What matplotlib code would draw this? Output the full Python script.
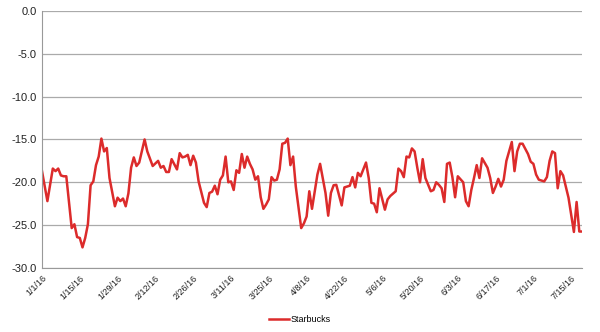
import matplotlib
matplotlib.use('Agg')
import matplotlib.pyplot as plt
import pandas as pd

plt.rcParams['font.family'] = ['Liberation Sans', 'DejaVu Sans']

# ------------------------------------------------------------
# Data (day offset from 1/1/16)
# ------------------------------------------------------------
START = pd.Timestamp('2016-01-01')

days = [0, 2, 4, 5, 6, 7, 8, 9, 11, 12, 13, 14, 15, 16, 17, 18, 19, 20, 21, 22,
        23, 24, 25, 27, 28, 29, 30, 31, 32, 33, 34, 35, 36, 38, 39, 41, 43, 44, 45, 46,
        47, 48, 50, 51, 52, 53, 54, 55, 56, 57, 58, 60, 61, 62, 63, 64, 65, 66, 67, 68,
        69, 70, 71, 72, 73, 74, 75, 76, 77, 78, 79, 80, 81, 82, 83, 84, 85, 86, 87, 88,
        89, 90, 91, 92, 93, 94, 96, 97, 98, 99, 100, 102, 103, 105, 106, 107, 108, 109, 111, 112,
        114, 115, 116, 117, 118, 120, 121, 122, 123, 124, 125, 127, 128, 129, 131, 132, 133, 134, 135, 136,
        137, 138, 139, 140, 141, 142, 144, 145, 146, 147, 148, 149, 150, 151, 152, 153, 154, 156, 157, 158,
        159, 160, 161, 162, 163, 165, 166, 167, 168, 169, 170, 171, 172, 174, 175, 176, 177, 178, 180, 181,
        182, 183, 184, 186, 187, 188, 189, 190, 191, 192, 193, 195, 196, 197, 198, 199, 200]

starbucks = [-18.7, -22.2, -18.4, -18.7, -18.4, -19.2, -19.3, -19.3, -25.35, -24.9,
             -26.4, -26.5, -27.6, -26.5, -24.9, -20.35, -19.9, -18.0, -17.0, -14.9,
             -16.4, -16.0, -19.5, -22.8, -21.8, -22.2, -21.9, -22.8, -21.3, -18.3,
             -17.1, -18.1, -17.7, -15.0, -16.4, -18.1, -17.5, -18.3, -18.1, -18.8,
             -18.8, -17.3, -18.5, -16.6, -17.1, -17.0, -16.8, -18.0, -16.9, -17.7,
             -19.9, -22.4, -22.9, -21.25, -21.1, -20.4, -21.4, -19.7, -19.2, -17.0,
             -20.0, -19.9, -20.9, -18.6, -18.9, -16.7, -18.3, -17.0, -17.85, -18.5,
             -19.7, -19.3, -21.75, -23.1, -22.6, -22.0, -19.4, -19.8, -19.7, -18.5,
             -15.5, -15.4, -14.9, -18.0, -17.0, -20.5, -25.35, -24.8, -24.0, -21.05,
             -23.1, -19.1, -17.85, -21.25, -23.9, -21.25, -20.35, -20.3, -22.7, -20.6,
             -20.4, -19.4, -20.6, -18.9, -19.3, -17.7, -19.5, -22.4, -22.5, -23.5,
             -20.7, -23.2, -22.0, -21.6, -21.05, -18.4, -18.7, -19.4, -17.0, -17.1,
             -16.05, -16.4, -18.3, -20.0, -17.3, -19.5, -21.05, -20.9, -20.0, -20.3,
             -20.7, -22.3, -17.85, -17.7, -19.4, -21.75, -19.3, -20.0, -22.2, -22.8,
             -20.9, -19.5, -18.0, -19.5, -17.2, -18.3, -19.5, -21.25, -20.5, -19.6,
             -20.5, -19.7, -17.5, -15.3, -18.7, -16.4, -15.5, -15.5, -16.7, -17.6,
             -17.85, -19.1, -19.7, -19.9, -19.4, -17.5, -16.4, -16.6, -20.7, -18.7,
             -19.2, -21.8, -23.8, -25.8, -22.3, -25.75, -25.75]

Y_TICKS = [0, -5, -10, -15, -20, -25, -30]

dates = START + pd.to_timedelta(days, unit='D')
tick_dates = pd.date_range('2016-01-01', '2016-07-15', freq='14D')
tick_labels = [f"{d.month}/{d.day}/{d.year % 100}" for d in tick_dates]

# ------------------------------------------------------------
# Plot
# ------------------------------------------------------------
fig = plt.figure(figsize=(6.0, 3.32), dpi=100)
ax = fig.add_axes([0.07, 0.193, 0.90, 0.774])

ax.plot(dates, starbucks, color='#dc2b2b', linewidth=1.8, label='Starbucks')

ax.set_ylim(-30, 0)
ax.set_yticks(Y_TICKS)
ax.set_yticklabels([f"{v:.1f}" for v in Y_TICKS], fontsize=8, color='#222222')
ax.set_xlim(dates[0], dates[-1])
ax.set_xticks(tick_dates)
ax.set_xticklabels(tick_labels, rotation=45, ha='right', rotation_mode='anchor',
                   fontsize=6.5, color='#222222')

ax.grid(axis='y', color='#aaaaaa', linewidth=0.9)
ax.set_axisbelow(True)
for side in ['top', 'right']:
    ax.spines[side].set_visible(False)
for side in ['left', 'bottom']:
    ax.spines[side].set_color('#999999')
ax.tick_params(length=0, pad=4)

fig.legend(loc='lower center', bbox_to_anchor=(0.5, 0.0), frameon=False,
           fontsize=6.5, handlelength=2.2, handletextpad=0.2)

fig.savefig('out.png', dpi=100)
